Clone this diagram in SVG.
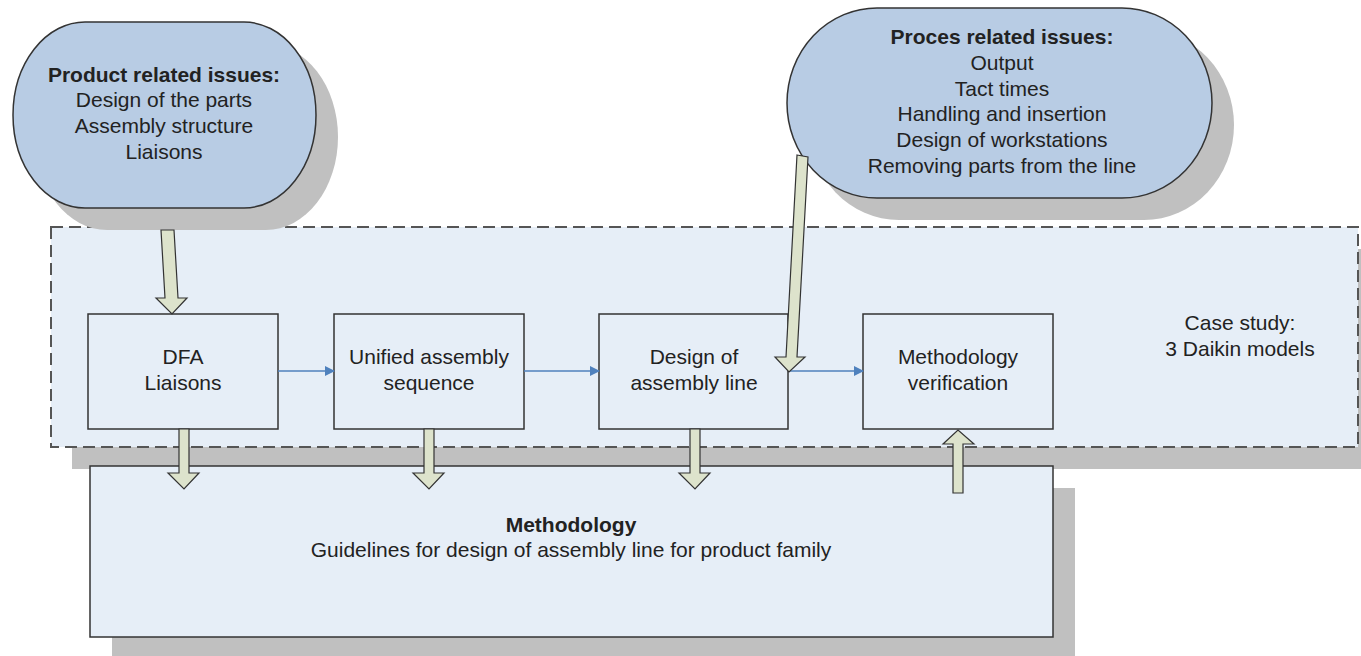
<svg xmlns="http://www.w3.org/2000/svg" width="1361" height="656" viewBox="0 0 1361 656">
<style>
text{font-family:"Liberation Sans",Arial,sans-serif;font-size:21px;fill:#222;text-anchor:middle}
.b{font-weight:bold}
.sh{fill:#c0c0c0}
.ell{fill:#b8cce4;stroke:#333;stroke-width:1.5}
.box{fill:#e6eef7;stroke:#333;stroke-width:1.5}
.fat{fill:#dde3cc;stroke:#333;stroke-width:1.2;stroke-linejoin:miter}
.flow{stroke:#4f81bd;stroke-width:1.5;fill:none}
</style>
<defs>
<marker id="ah" markerWidth="10" markerHeight="10" refX="9" refY="5" orient="auto" markerUnits="userSpaceOnUse">
<path d="M0,0 L10,5 L0,10 z" fill="#4f81bd"/>
</marker>
</defs>
<rect width="1361" height="656" fill="#fff"/>

<g id="case-study">
<rect class="sh" x="72" y="249" width="1289" height="220"/>
<rect x="51" y="227" width="1307" height="220" fill="#e6eef7" stroke="#555" stroke-width="2" stroke-dasharray="12,6"/>
<text x="1240" y="330">Case study:</text>
<text x="1240" y="356">3 Daikin models</text>
</g>

<g id="methodology">
<rect class="sh" x="112" y="488" width="963" height="168"/>
<rect class="box" x="90" y="466" width="963" height="171"/>
<text class="b" x="571" y="532">Methodology</text>
<text x="571" y="557">Guidelines for design of assembly line for product family</text>
</g>

<g id="product-issues">
<rect class="sh" x="35" y="44" width="303" height="186" rx="72" ry="93"/>
<rect class="ell" x="13" y="22" width="303" height="186" rx="72" ry="93"/>
<text class="b" x="164" y="82">Product related issues:</text>
<text x="164" y="107">Design of the parts</text>
<text x="164" y="133">Assembly structure</text>
<text x="164" y="159">Liaisons</text>
</g>

<g id="process-issues">
<rect class="sh" x="809" y="30" width="425" height="190" rx="90" ry="95"/>
<rect class="ell" x="787" y="8" width="425" height="190" rx="90" ry="95"/>
<text class="b" x="1002" y="44">Proces related issues:</text>
<text x="1002" y="70">Output</text>
<text x="1002" y="96">Tact times</text>
<text x="1002" y="121">Handling and insertion</text>
<text x="1002" y="147">Design of workstations</text>
<text x="1002" y="173">Removing parts from the line</text>
</g>

<g id="dfa">
<rect class="box" x="88" y="314" width="190" height="115"/>
<text x="183" y="364">DFA</text>
<text x="183" y="390">Liaisons</text>
</g>
<g id="unified">
<rect class="box" x="334" y="314" width="190" height="115"/>
<text x="429" y="364">Unified assembly</text>
<text x="429" y="390">sequence</text>
</g>
<g id="design-line">
<rect class="box" x="599" y="314" width="189" height="115"/>
<text x="694" y="364">Design of</text>
<text x="694" y="390">assembly line</text>
</g>
<g id="verification">
<rect class="box" x="863" y="314" width="190" height="115"/>
<text x="958" y="364">Methodology</text>
<text x="958" y="390">verification</text>
</g>

<g id="connectors">
<line class="flow" x1="278" y1="371" x2="334" y2="371" marker-end="url(#ah)"/>
<line class="flow" x1="524" y1="371" x2="599" y2="371" marker-end="url(#ah)"/>
<line class="flow" x1="788" y1="371" x2="863" y2="371" marker-end="url(#ah)"/>
<path class="fat" d="M161,230 L174,230 L178,298 L187,298 L172,314 L156,298 L165,298 Z"/>
<path class="fat" d="M797,155 L808,157 L797,357 L805,357 L789,372 L775,357 L786,357 Z"/>
<path class="fat" d="M179,429 L189,429 L189,473 L199,473 L184,489 L168,473 L179,473 Z"/>
<path class="fat" d="M424,429 L434,429 L434,473 L444,473 L429,489 L413,473 L424,473 Z"/>
<path class="fat" d="M690,429 L700,429 L700,473 L710,473 L695,489 L679,473 L690,473 Z"/>
<path class="fat" d="M953,493 L963,493 L963,444 L974,444 L958,430 L943,444 L953,444 Z"/>
</g>
</svg>
